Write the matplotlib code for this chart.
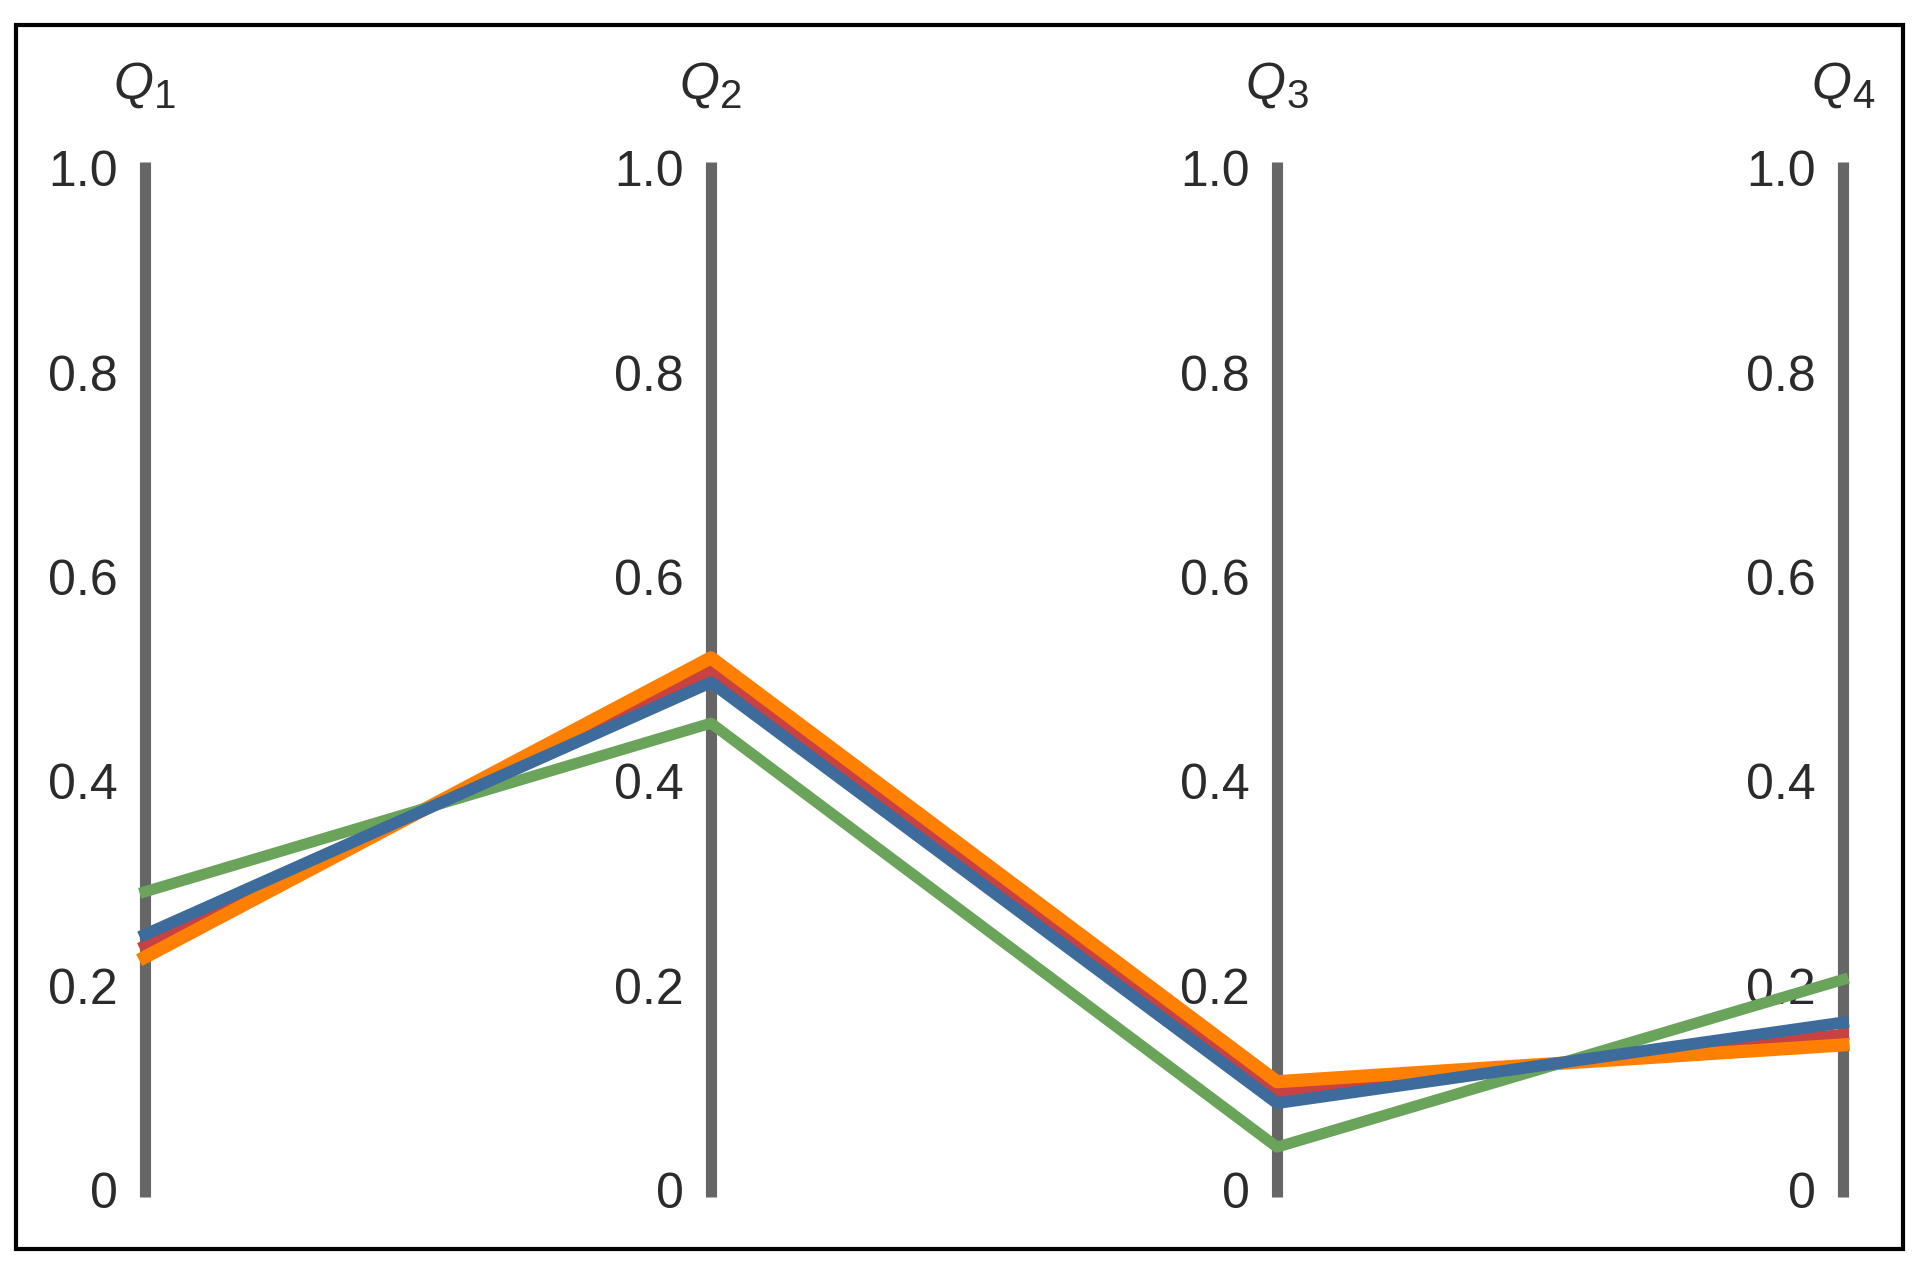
import matplotlib
matplotlib.use("Agg")
import matplotlib.pyplot as plt
from matplotlib.patches import Rectangle

plt.rcParams["font.family"] = ["Liberation Sans", "DejaVu Sans"]

# axes and series values
axis_names = ["Q", "Q", "Q", "Q"]
axis_subs = ["1", "2", "3", "4"]
tick_values = [0, 0.2, 0.4, 0.6, 0.8, 1.0]
tick_labels = ["0", "0.2", "0.4", "0.6", "0.8", "1.0"]

red = [0.239, 0.509, 0.096, 0.152]
orange = [0.228, 0.521, 0.106, 0.142]
green = [0.292, 0.457, 0.042, 0.206]
blue = [0.250, 0.497, 0.085, 0.164]

fig = plt.figure(figsize=(19.32, 12.84), dpi=100)
ax = fig.add_axes([145 / 1932, 1 - 1190 / 1284, (1843 - 145) / 1932, (1190 - 168.5) / 1284])
ax.set_xlim(0, 3)
ax.set_ylim(0, 1)
ax.axis("off")

xs = range(len(axis_names))

# vertical axes with their labels
for i in xs:
    ax.plot([i, i], [-0.007, 1.006], color="#666666", lw=8, solid_capstyle="butt",
            clip_on=False, zorder=1)
    for v, t in zip(tick_values, tick_labels):
        ax.annotate(t, (i, v), xytext=(-27, 0), textcoords="offset pixels",
                    ha="right", va="center_baseline", fontsize=36, color="#2b2b2b")
    ax.annotate(axis_names[i], (i, 1.0), xytext=(8, 70), textcoords="offset pixels",
                ha="right", va="baseline", fontsize=37, style="italic", color="#2b2b2b")
    ax.annotate(axis_subs[i], (i, 1.0), xytext=(9, 60), textcoords="offset pixels",
                ha="left", va="baseline", fontsize=29, color="#2b2b2b")

ax.plot(xs, red, color="#c84242", lw=8.5, zorder=2, clip_on=False)
ax.plot(xs, orange, color="#ff7f00", lw=9.5, zorder=3, clip_on=False)
ax.plot(xs, green, color="#6aa45b", lw=8, zorder=4, clip_on=False)
ax.plot(xs, blue, color="#3c6b9c", lw=8.5, zorder=5, clip_on=False)

# frame around the whole picture
fig.patches.append(Rectangle((16 / 1932, 1 - 1249 / 1284), (1903 - 16) / 1932,
                             (1249 - 25) / 1284, transform=fig.transFigure,
                             fill=False, edgecolor="black", lw=3))

fig.savefig("out.png", dpi=100)
